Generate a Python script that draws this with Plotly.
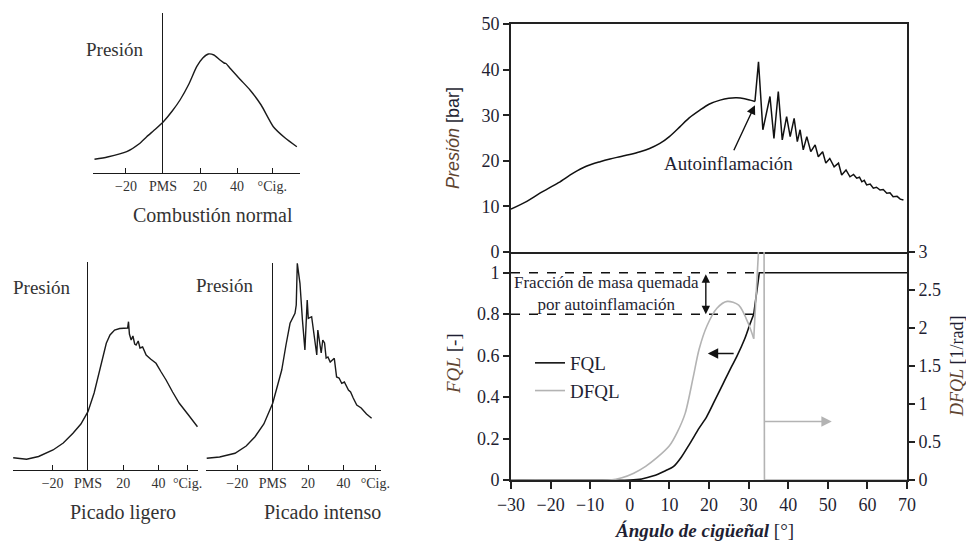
import plotly.graph_objects as go

# The page body has an 8 px margin, so the figure is sized to fill the rest of the 974x543 window.
OFF = 8
W, H = 974 - OFF, 543 - OFF

# ---------------- data ----------------
# Left: schematic pressure traces (arbitrary units)
normal_angle = [-37, -30, -19.6, -13, -8.8, -4, 0.2, 5, 9.2, 14, 18.2, 21.5, 24.5, 27.5, 30.8, 33.0, 34.0, 36.2, 42, 47, 53, 59.6, 66, 72.3]
normal_p = [13.7, 16, 21.3, 29, 36.3, 44, 51.3, 62, 73, 89, 106.3, 115, 119, 118, 113, 110, 109.5, 104.7, 93, 83, 68, 46.3, 35, 26.3]

light_angle = [-42.4, -38, -34.8, -28, -19.8, -14, -8.5, -4, 0, 3.5, 6.6, 8.5, 10.4, 12.5, 15.1, 18, 21.7, 22.5, 23, 23.5, 24.5, 25.5, 26.5, 27.3, 28.5, 29.5, 31, 32, 33, 35.5, 38.6, 41.5, 44.3, 48, 51.8, 57, 62.1]
light_p = [12.3, 11, 10.7, 13.5, 20, 27, 36.7, 46, 58.3, 77, 100, 115, 126.7, 135, 140, 141.5, 141.7, 142, 148.3, 136, 130, 134, 126, 125, 129, 122, 123, 118, 115, 111, 106.7, 98, 90, 78, 66.7, 55, 43.3]

heavy_angle = [-37.3, -30, -21.3, -15, -10, -5, 0, 2.5, 5.1, 7.5, 9.8, 12.6, 13.3, 13.9, 14.6, 15.4, 16.8, 18.2, 19.5, 20.1, 22, 23, 24.9, 25.5, 26.5, 27.4, 28.3, 29.3, 30.2, 31.2, 32.5, 34.8, 36.1, 37.5, 39, 40.5, 42.8, 44, 45.5, 47.5, 50, 53, 55.9]
heavy_p = [11.7, 13, 16.7, 24, 33.3, 46, 66.7, 82, 100, 125, 146.7, 156.7, 165, 206.7, 195, 186.7, 150, 120, 170, 151.7, 153.3, 140, 115, 140, 125, 117, 130, 127, 112, 113, 108, 111.7, 93, 92, 86.7, 88, 80, 78, 72, 65, 62, 56, 51.7]

left_tick_text = ["\u221220", "PMS", "20", "40", "\u00b0Cig."]
normal_tick_vals = [-20, 0, 20, 40, 59]
light_tick_vals = [-20, 0, 20, 40, 56.5]
heavy_tick_vals = [-20, 0, 20, 40, 58]

# Right: measured cylinder pressure [bar]
p_angle = [-30, -26, -22.7, -18, -14.3, -11, -7.5, -5, -2.5, 0, 2.6, 5, 7.6, 10, 12.7, 15, 17.7, 20, 22.8, 25, 27, 29, 30.4, 31.6,
           32.5, 33.6, 35.4, 36.4, 37.5, 38.5, 39.6, 40.5, 41.5, 42.3, 43, 43.8, 44.7, 45.7, 46.8, 47.6, 48.7, 49.5, 50.5,
           51.6, 52.7, 53.5, 54.6, 55.6, 56.5, 57.3, 58, 58.6, 59.2, 59.8, 60.7, 61.5, 62.3, 63.2, 64, 64.9, 65.7, 66.5, 67.5, 68.3, 69.1]
p_bar = [9.4, 11.1, 12.9, 15.2, 17.3, 18.8, 19.8, 20.4, 20.9, 21.4, 22.0, 22.7, 23.8, 25.3, 27.5, 29.4, 31.1, 32.4, 33.3, 33.7, 33.8, 33.6, 33.3, 33.0,
         41.7, 26.8, 34.1, 24.9, 35.2, 24.6, 29.7, 25.3, 29.3, 24.2, 26.8, 22.4, 25.3, 22.0, 23.5, 20.9, 22.0, 19.5, 20.5,
         18.7, 19.5, 16.9, 18.0, 16.5, 17.0, 16.2, 16.4, 15.4, 15.7, 14.7, 14.9, 14.0, 14.2, 13.6, 13.7, 12.9, 13.0, 12.1, 12.2, 11.6, 11.4]
knock_onset = 31.6  # angle where the smooth compression/combustion trace ends

# Mass fraction burned (FQL) and its derivative (DFQL)
fql_angle = [-30, 0, 3, 6, 9, 11, 13, 15.2, 17.5, 19.4, 21.5, 23.6, 25.5, 27, 29, 30.3, 31.3, 32.7, 70]
fql = [0, 0, 0.005, 0.02, 0.045, 0.064, 0.11, 0.177, 0.25, 0.305, 0.385, 0.466, 0.54, 0.595, 0.68, 0.75, 0.80, 1.0, 1.0]

dfql_angle = [-30, -5, -2, 1, 4, 7, 10, 12, 14, 16, 17.5, 19.5, 22, 24.6, 27.5, 30, 31.3, 32.8, 33.9, 34.0, 70]
dfql = [0, 0, 0.03, 0.09, 0.18, 0.3, 0.45, 0.63, 0.88, 1.35, 1.72, 2.03, 2.26, 2.35, 2.3, 2.05, 1.86, 3.3, 3.3, 0, 0]
burn_break = 31.3  # end of smooth burn, start of auto-ignition

# Auto-ignition burned fraction band
band_levels = [1.0, 0.8]
band_end = [32.7, 31.3]

# ---------------- helpers ----------------
def fx(p):
    return (p - OFF) / W

def fy(p):
    return 1 - (p - OFF) / H

def split(xs, ys, at):
    a = [(x, y) for x, y in zip(xs, ys) if x <= at]
    b = [(x, y) for x, y in zip(xs, ys) if x >= at]
    return [p[0] for p in a], [p[1] for p in a], [p[0] for p in b], [p[1] for p in b]

SERIF = "Liberation Serif"
INK = "#1f1f33"
VAR = "#5e4430"
SCAN = "#1a1a1a"
GRAY = "#b3b3b3"

fig = go.Figure()

# Left schematic traces
fig.add_trace(go.Scatter(x=normal_angle, y=normal_p, mode="lines", line=dict(color=SCAN, width=1.4, shape="spline", smoothing=0.6),
                         xaxis="x", yaxis="y", showlegend=False, hoverinfo="skip"))
fig.add_trace(go.Scatter(x=light_angle, y=light_p, mode="lines", line=dict(color=SCAN, width=1.4),
                         xaxis="x2", yaxis="y2", showlegend=False, hoverinfo="skip"))
fig.add_trace(go.Scatter(x=heavy_angle, y=heavy_p, mode="lines", line=dict(color=SCAN, width=1.4),
                         xaxis="x3", yaxis="y3", showlegend=False, hoverinfo="skip"))

# Right top: pressure (smooth part + knocking part)
pa1, pb1, pa2, pb2 = split(p_angle, p_bar, knock_onset)
fig.add_trace(go.Scatter(x=pa1, y=pb1, mode="lines", line=dict(color="#111111", width=1.5, shape="spline", smoothing=0.8),
                         xaxis="x4", yaxis="y4", showlegend=False))
fig.add_trace(go.Scatter(x=pa2, y=pb2, mode="lines", line=dict(color="#111111", width=1.5),
                         xaxis="x4", yaxis="y4", showlegend=False))

# Right bottom: dashed band lines
for lvl, end in zip(band_levels, band_end):
    fig.add_trace(go.Scatter(x=[-30, end], y=[lvl, lvl], mode="lines", line=dict(color="#111111", width=1.5, dash="dash"),
                             xaxis="x5", yaxis="y5", showlegend=False, hoverinfo="skip"))

da1, db1, da2, db2 = split(dfql_angle, dfql, burn_break)
fig.add_trace(go.Scatter(x=da1, y=db1, mode="lines", name="DFQL", line=dict(color=GRAY, width=1.6, shape="spline", smoothing=0.8),
                         xaxis="x5", yaxis="y6", showlegend=True, legendrank=2))
fig.add_trace(go.Scatter(x=da2, y=db2, mode="lines", name="DFQL", line=dict(color=GRAY, width=1.6),
                         xaxis="x5", yaxis="y6", showlegend=False))

fa1, fb1, fa2, fb2 = split(fql_angle, fql, burn_break)
fig.add_trace(go.Scatter(x=fa1, y=fb1, mode="lines", name="FQL", line=dict(color="#111111", width=1.6, shape="spline", smoothing=0.8),
                         xaxis="x5", yaxis="y5", showlegend=True, legendrank=1))
fig.add_trace(go.Scatter(x=fa2, y=fb2, mode="lines", name="FQL", line=dict(color="#111111", width=1.6),
                         xaxis="x5", yaxis="y5", showlegend=False))

# ---------------- axes ----------------
def left_x(domain_px, rng, tickvals):
    return dict(domain=[fx(domain_px[0]), fx(domain_px[1])], range=rng, showline=True, linecolor=SCAN, linewidth=1.3,
                ticks="inside", ticklen=5, tickwidth=1.2, tickcolor=SCAN, tickvals=tickvals, ticktext=left_tick_text,
                tickangle=0, tickfont=dict(family=SERIF, size=14, color="#333333"), zeroline=True, zerolinecolor=SCAN,
                zerolinewidth=1.3, showgrid=False, fixedrange=True, automargin=False)

def left_y(domain_px, rng):
    return dict(domain=[fy(domain_px[1]), fy(domain_px[0])], range=rng, showline=False, showticklabels=False,
                ticks="", zeroline=False, showgrid=False, fixedrange=True, automargin=False)

axis_common = dict(showgrid=False, zeroline=False, linecolor="#222222", linewidth=2, tickcolor="#222222", tickwidth=1.6,
                   tickfont=dict(family=SERIF, size=18, color=INK), automargin=False)

fig.update_layout(
    width=W, height=H, margin=dict(l=0, r=0, t=0, b=0, pad=0, autoexpand=False),
    paper_bgcolor="white", plot_bgcolor="rgba(0,0,0,0)",
    xaxis=left_x([93, 300], [-37.8, 74], normal_tick_vals) | dict(anchor="y"),
    yaxis=left_y([13, 173], [0, 160]) | dict(anchor="x"),
    xaxis2=left_x([13, 198], [-42.5, 62.4], light_tick_vals) | dict(anchor="y2"),
    yaxis2=left_y([262, 470], [0, 208]) | dict(anchor="x2"),
    xaxis3=left_x([206, 381], [-37.7, 61.2], heavy_tick_vals) | dict(anchor="y3"),
    yaxis3=left_y([263, 470], [0, 207]) | dict(anchor="x3"),
    xaxis4=dict(axis_common, domain=[fx(511), fx(907)], range=[-30, 70], anchor="y4", showline=True, mirror=True,
                showticklabels=False, ticks=""),
    yaxis4=dict(axis_common, domain=[fy(252), fy(24)], range=[0, 50], dtick=10, anchor="x4", showline=True, mirror=True,
                ticks="outside", ticklen=6),
    xaxis5=dict(axis_common, domain=[fx(511), fx(907)], range=[-30, 70], dtick=10, anchor="y5", showline=True, mirror=False,
                ticks="outside", ticklen=7),
    yaxis5=dict(axis_common, domain=[fy(480), fy(252)], range=[0, 1.1], tickvals=[0, 0.2, 0.4, 0.6, 0.8, 1.0],
                ticktext=["0", "0.2", "0.4", "0.6", "0.8", "1"], anchor="x5", showline=True, ticks="outside", ticklen=6),
    yaxis6=dict(axis_common, range=[0, 3], dtick=0.5, overlaying="y5", side="right", anchor="x5", showline=True,
                ticks="outside", ticklen=6),
    legend=dict(x=fx(530), y=fy(344), xanchor="left", yanchor="top", bgcolor="rgba(0,0,0,0)",
                font=dict(family=SERIF, size=19, color=INK), tracegroupgap=0, itemwidth=30),
)

ann = []
C = dict(xanchor="center", yanchor="middle", showarrow=False)
# left panel labels
for (px, py, txt, sz) in [(115, 49, "Presión", 19), (42, 287, "Presión", 19), (225, 285, "Presión", 19),
                          (213, 215, "Combustión normal", 20), (123, 512, "Picado ligero", 20), (322, 512, "Picado intenso", 20)]:
    ann.append(dict(C, x=fx(px), y=fy(py), xref="paper", yref="paper", text=txt,
                    font=dict(family=SERIF, size=sz, color="#333333")))

# axis titles for right chart
ann.append(dict(C, x=fx(453), y=fy(138), xref="paper", yref="paper", textangle=-90,
                text=f"<span style='color:{VAR}'><i>Presión</i></span> [bar]",
                font=dict(family="Liberation Sans", size=18, color=INK)))
ann.append(dict(C, x=fx(453), y=fy(364), xref="paper", yref="paper", textangle=-90,
                text=f"<span style='color:{VAR}'><i>FQL</i></span> [-]", font=dict(family=SERIF, size=19, color=INK)))
ann.append(dict(C, x=fx(957), y=fy(366), xref="paper", yref="paper", textangle=-90,
                text=f"<span style='color:{VAR}'><i>DFQL</i></span> [1/rad]", font=dict(family=SERIF, size=18, color=INK)))
ann.append(dict(C, x=fx(704), y=fy(530), xref="paper", yref="paper",
                text="<i><b>Ángulo de cigüeñal</b></i> [°]", font=dict(family=SERIF, size=19, color=INK)))

# Autoinflamación label + arrow
ann.append(dict(C, x=25.0, y=19.5, xref="x4", yref="y4", text="Autoinflamación",
                font=dict(family=SERIF, size=19, color=INK)))
ann.append(dict(x=31.6, y=32.2, ax=26.1, ay=22.0, xref="x4", yref="y4", axref="x4", ayref="y4", text="",
                showarrow=True, arrowhead=2, arrowsize=1.3, arrowwidth=1.4, arrowcolor="#111111"))

# band label and double arrow
ann.append(dict(C, x=-5.8, y=0.90, xref="x5", yref="y5", text="Fracción de masa quemada<br>por autoinflamación",
                font=dict(family=SERIF, size=17, color=INK)))
ann.append(dict(x=19.2, y=0.8, ax=19.2, ay=1.0, xref="x5", yref="y5", axref="x5", ayref="y5", text="",
                showarrow=True, arrowhead=2, startarrowhead=2, arrowside="end+start", arrowsize=1.2, arrowwidth=1.4,
                arrowcolor="#111111"))
# axis pointer arrows
ann.append(dict(x=19.7, y=0.61, ax=26.6, ay=0.61, xref="x5", yref="y5", axref="x5", ayref="y5", text="",
                showarrow=True, arrowhead=2, arrowsize=1.3, arrowwidth=1.6, arrowcolor="#111111"))
ann.append(dict(x=51.0, y=0.77, ax=33.7, ay=0.77, xref="x5", yref="y6", axref="x5", ayref="y6", text="",
                showarrow=True, arrowhead=2, arrowsize=1.3, arrowwidth=1.6, arrowcolor=GRAY))

fig.update_layout(annotations=ann)

fig.write_html("out.html")
